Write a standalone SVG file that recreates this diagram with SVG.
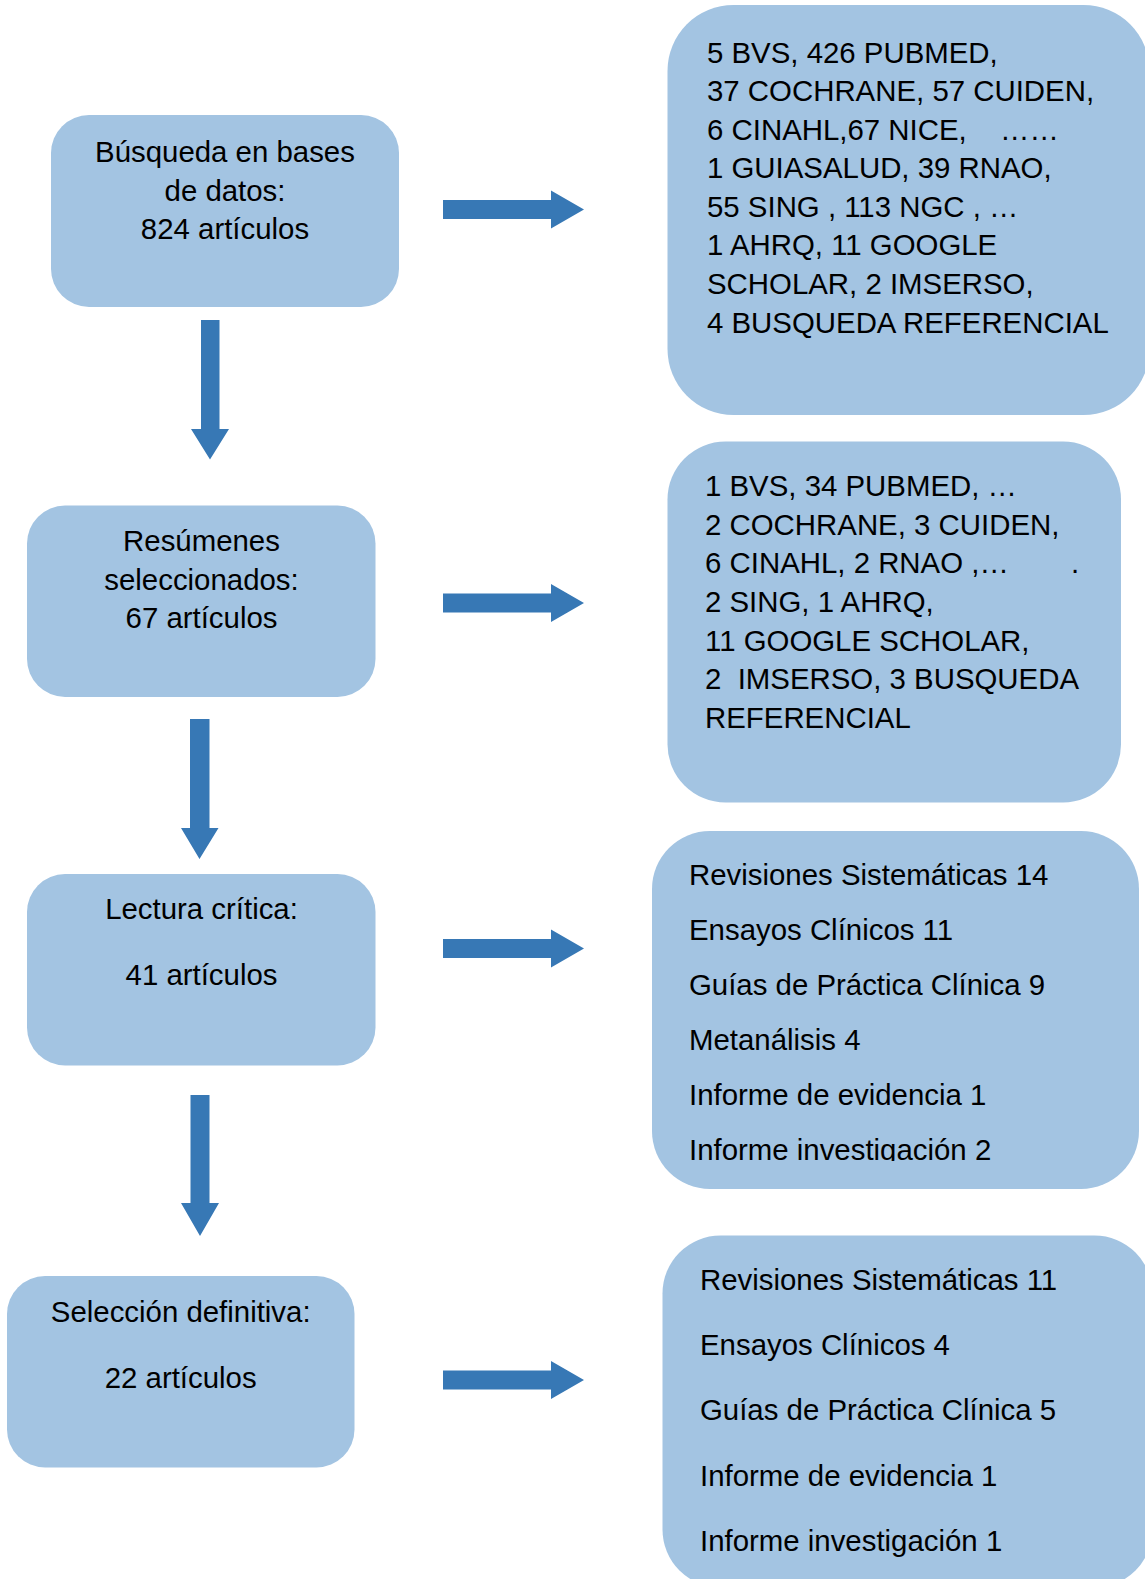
<svg xmlns="http://www.w3.org/2000/svg" width="1145" height="1579" viewBox="0 0 1145 1579">
<style>
.box{fill:#a3c4e2;}
.arr{fill:#3778b5;}
text{font-family:"Liberation Sans",Arial,sans-serif;font-size:29.4px;fill:#000;}
.c{text-anchor:middle;}
</style>
<defs>
<clipPath id="clip3"><rect x="640" y="820" width="505" height="341"/></clipPath>
</defs>
<rect width="1145" height="1579" fill="#fff"/>
<g id="connectors">
<polygon class="arr" points="443,200 551,200 551,190.5 584,209.5 551,228.5 551,219 443,219"/>
<polygon class="arr" points="443,593.5 551,593.5 551,584 584,603 551,622 551,612.5 443,612.5"/>
<polygon class="arr" points="443,939 551,939 551,929.5 584,948.5 551,967.5 551,958 443,958"/>
<polygon class="arr" points="443,1370.5 551,1370.5 551,1361 584,1380 551,1399 551,1389.5 443,1389.5"/>
<polygon class="arr" points="201,320 219.5,320 219.5,429 229,429 210,459.5 191,429 201,429"/>
<polygon class="arr" points="190,719 209.5,719 209.5,828 218.5,828 199.5,859 181,828 190,828"/>
<polygon class="arr" points="190.5,1095 209.5,1095 209.5,1203 219,1203 200,1236 181,1203 190.5,1203"/>
</g>
<g id="n1">
<rect class="box" x="51" y="115" width="348" height="192" rx="38"/>
<text class="c" x="225" y="162">Búsqueda en bases</text>
<text class="c" x="225" y="200.5">de datos:</text>
<text class="c" x="225" y="239">824 artículos</text>
</g>
<g id="n2">
<rect class="box" x="27" y="505.5" width="348.5" height="191.5" rx="38"/>
<text class="c" x="201.5" y="551">Resúmenes</text>
<text class="c" x="201.5" y="589.5">seleccionados:</text>
<text class="c" x="201.5" y="628">67 artículos</text>
</g>
<g id="n3">
<rect class="box" x="27" y="874" width="348.5" height="191.5" rx="38"/>
<text class="c" x="201.5" y="919">Lectura crítica:</text>
<text class="c" x="201.5" y="985">41 artículos</text>
</g>
<g id="n4">
<rect class="box" x="7" y="1276" width="347.5" height="191.5" rx="38"/>
<text class="c" x="180.7" y="1322">Selección definitiva:</text>
<text class="c" x="180.7" y="1387.5">22 artículos</text>
</g>
<g id="r1">
<rect class="box" x="667.5" y="5" width="482" height="410" rx="66"/>
<text x="707" y="62.5">5 BVS, 426 PUBMED,</text>
<text x="707" y="101">37 COCHRANE, 57 CUIDEN,</text>
<text x="707" y="139.5">6 CINAHL,67 NICE,</text>
<text x="1000" y="139.5">……</text>
<text x="707" y="178">1 GUIASALUD, 39 RNAO,</text>
<text x="707" y="216.5">55 SING , 113 NGC , …</text>
<text x="707" y="255">1 AHRQ, 11 GOOGLE</text>
<text x="707" y="294">SCHOLAR, 2 IMSERSO,</text>
<text x="707" y="332.5">4 BUSQUEDA REFERENCIAL</text>
</g>
<g id="r2">
<rect class="box" x="667.5" y="441.5" width="453.5" height="361" rx="58"/>
<text x="705" y="496">1 BVS, 34 PUBMED, …</text>
<text x="705" y="534.5">2 COCHRANE, 3 CUIDEN,</text>
<text x="705" y="573">6 CINAHL, 2 RNAO ,…</text>
<text x="1071" y="573">.</text>
<text x="705" y="612">2 SING, 1 AHRQ,</text>
<text x="705" y="650.5">11 GOOGLE SCHOLAR,</text>
<text x="705" y="689" xml:space="preserve">2  IMSERSO, 3 BUSQUEDA</text>
<text x="705" y="727.5">REFERENCIAL</text>
</g>
<g id="r3">
<rect class="box" x="652" y="831" width="487" height="358" rx="58"/>
<text x="689" y="885">Revisiones Sistemáticas 14</text>
<text x="689" y="940">Ensayos Clínicos 11</text>
<text x="689" y="995">Guías de Práctica Clínica 9</text>
<text x="689" y="1049.5">Metanálisis 4</text>
<text x="689" y="1104.5">Informe de evidencia 1</text>
<text x="689" y="1159.5" clip-path="url(#clip3)">Informe investigación 2</text>
</g>
<g id="r4">
<rect class="box" x="662.5" y="1235.5" width="490" height="352" rx="58"/>
<text x="700" y="1289.5">Revisiones Sistemáticas 11</text>
<text x="700" y="1355">Ensayos Clínicos 4</text>
<text x="700" y="1420">Guías de Práctica Clínica 5</text>
<text x="700" y="1486">Informe de evidencia 1</text>
<text x="700" y="1551">Informe investigación 1</text>
</g>
</svg>
